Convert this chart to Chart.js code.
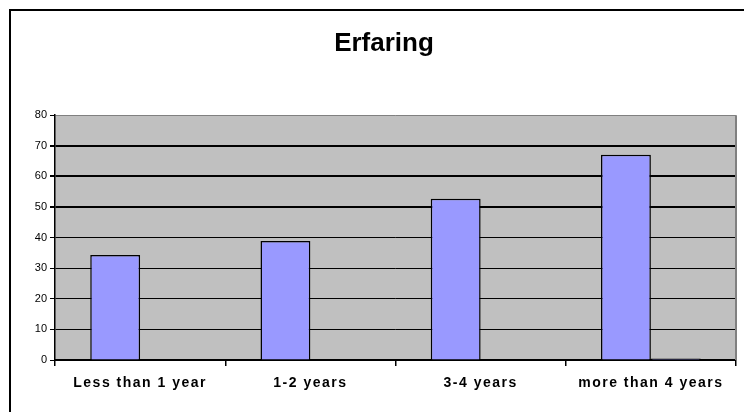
<!DOCTYPE html>
<html>
<head>
<meta charset="utf-8">
<script src="https://cdn.jsdelivr.net/npm/chart.js@4/dist/chart.umd.min.js"></script>
<style>
  html, body { margin: 0; padding: 0; background: #fff; }
  #wrap { position: relative; width: 744px; height: 412px; }
</style>
</head>
<body>
<div id="wrap"><canvas id="erfChart"></canvas></div>
<script>
const labels = ['Less than 1 year', '1-2 years', '3-4 years', 'more than 4 years'];
const seriesA = [34.3, 38.9, 52.7, 67.1];
const seriesB = [0, 0, 0, 0.5];
const yTicks = [0, 10, 20, 30, 40, 50, 60, 70, 80];

// plot background, outer frame and grey right edge, the way Excel draws it
const frame = {
  id: 'frame',
  beforeDraw(chart) {
    const c = chart.ctx, a = chart.chartArea;
    c.save();
    c.fillStyle = '#fff';
    c.fillRect(0, 0, chart.width, chart.height);
    c.fillStyle = '#C0C0C0';
    c.fillRect(a.left, a.top, a.right - a.left, a.bottom - a.top);
    c.lineWidth = 2;
    c.strokeStyle = '#000';
    c.strokeRect(10, 10, 900, 600);
    c.restore();
  },
  afterDatasetsDraw(chart) {
    const c = chart.ctx, a = chart.chartArea;
    c.save();
    c.strokeStyle = '#808080';
    c.lineWidth = 2;
    c.beginPath();
    c.moveTo(a.right, a.top);
    c.lineTo(a.right, a.bottom);
    c.stroke();
    c.restore();
  }
};

const data = {
  labels: labels,
  datasets: [{
    label: 'Series1',
    data: seriesA,
    backgroundColor: '#9999FF',
    borderColor: '#000',
    borderWidth: 1.5
  }, {
    label: 'Series2',
    data: seriesB,
    backgroundColor: '#9999FF',
    borderColor: '#000',
    borderWidth: 1.5
  }]
};

const config = {
  type: 'bar',
  data,
  plugins: [frame],
  options: {
    responsive: true,
    maintainAspectRatio: false,
    animation: false,
    datasets: { bar: { categoryPercentage: 0.586, barPercentage: 1 } },
    layout: { padding: { left: 32, right: 8, top: 0, bottom: 0 } },
    plugins: {
      legend: { display: false },
      tooltip: { enabled: false },
      title: {
        display: true,
        text: 'Erfaring',
        color: '#000',
        font: { family: 'Arial, "Liberation Sans"', size: 26, weight: 'bold' },
        padding: { top: 28, bottom: 56 }
      }
    },
    scales: {
      x: {
        afterFit(s) { s.height = 52; },
        grid: {
          offset: true,
          drawOnChartArea: false,
          drawTicks: true,
          tickLength: 6,
          color: '#000',
          lineWidth: 1.5
        },
        border: { color: '#000', width: 2 },
        ticks: {
          color: '#000',
          padding: 9,
          maxRotation: 0,
          font: { family: 'Arial, "Liberation Sans"', size: 14, weight: 'bold' }
        }
      },
      y: {
        min: 0,
        max: 80,
        afterFit(s) { s.width = 23; },
        afterBuildTicks(s) { s.ticks = yTicks.map(v => ({ value: v })); },
        grid: {
          color: ctx => ctx.tick && ctx.tick.value === 80 ? '#808080' : '#000',
          lineWidth: ctx => ctx.tick && ctx.tick.value >= 50 && ctx.tick.value <= 70 ? 2 : 1,
          tickLength: 5,
          tickColor: '#000'
        },
        border: { color: '#000', width: 1.5 },
        ticks: {
          color: '#000',
          padding: 3,
          font: { family: 'Arial, "Liberation Sans"', size: 11 }
        }
      }
    }
  }
};

var erfChart = new Chart(document.getElementById('erfChart'), config);

// the category labels in the source are spread out, widen only those
const xs = erfChart.scales.x;
const drawX = xs.drawLabels.bind(xs);
xs.drawLabels = function (area) {
  this.ctx.save();
  this.ctx.letterSpacing = '1.5px';
  drawX(area);
  this.ctx.restore();
};
erfChart.draw();
</script>
</body>
</html>
